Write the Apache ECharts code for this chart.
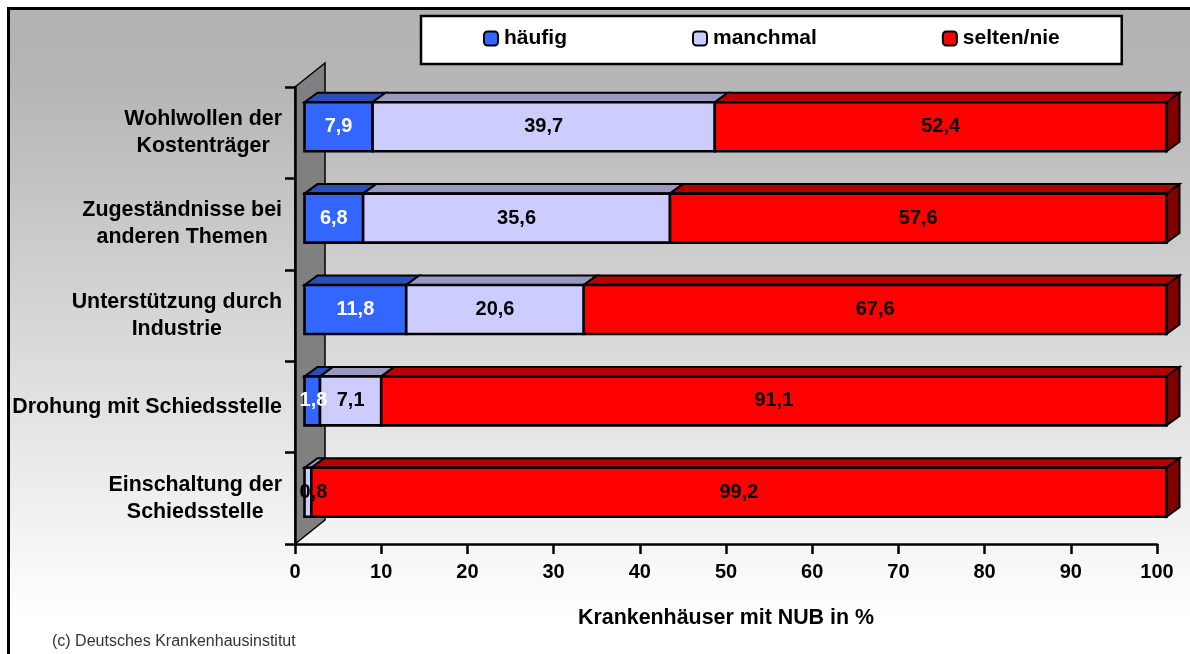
<!DOCTYPE html>
<html><head><meta charset="utf-8">
<style>html,body{margin:0;padding:0;background:#fff}#c{width:1190px;height:654px}</style>
<script src="https://cdn.jsdelivr.net/npm/echarts@6/dist/echarts.min.js"></script>
</head><body><div id="c"></div>
<script>
const categories = ['Wohlwollen der\nKostenträger','Zugeständnisse bei\nanderen Themen','Unterstützung durch\nIndustrie','Drohung mit Schiedsstelle','Einschaltung der\nSchiedsstelle'];
const haeufig = [7.9, 6.8, 11.8, 1.8, 0];
const manchmal = [39.7, 35.6, 20.6, 7.1, 0.8];
const selten = [52.4, 57.6, 67.6, 91.1, 99.2];
const xTicks = [0,100];
const seriesNames = ['häufig','manchmal','selten/nie'];
const FONT = '"Liberation Sans", Arial, sans-serif';
const FS = 20, FSL = 21.4;

const DX = 9.5, DY = -6, BACKX = 13, BACKY = -9.5, BAR_RATIO = 0.536;
const WALLX = 30, WALLY = -24;

function bar(front, top, side, labelColor, isLast) {
  return function (params, api) {
    const start = api.value(0), val = api.value(1), cat = api.value(2);
    if (!val) return null;
    const a = api.coord([start, cat]), b = api.coord([start + val, cat]);
    const h = api.size([0, 1])[1] * BAR_RATIO;
    const x0 = a[0] + DX, x1 = b[0] + DX, y0 = a[1] + DY - h / 2, y1 = y0 + h;
    const st = { stroke: '#000', lineWidth: 2.6, lineJoin: 'miter' };
    const kids = [
      { type: 'polygon', z2: 1, shape: { points: [[x0, y0], [x1, y0], [x1 + BACKX, y0 + BACKY], [x0 + BACKX, y0 + BACKY]] }, style: { fill: top, stroke: '#000', lineWidth: 2, lineJoin: 'miter' } },
      { type: 'rect', z2: 3, shape: { x: x0, y: y0, width: x1 - x0, height: h }, style: Object.assign({ fill: front }, st) }
    ];
    if (isLast) kids.push({ type: 'polygon', z2: 2, shape: { points: [[x1, y0], [x1 + BACKX, y0 + BACKY], [x1 + BACKX, y1 + BACKY], [x1, y1]] }, style: { fill: side, stroke: '#000', lineWidth: 2, lineJoin: 'miter' } });
    kids.push({ type: 'text', z2: 100, style: {
      x: Math.max((x0 + x1) / 2, x0 + 9), y: (y0 + y1) / 2,
      text: String(val).replace('.', ','), fill: labelColor,
      font: 'bold ' + FS + 'px ' + FONT, align: 'center', verticalAlign: 'middle'
    } });
    return { type: 'group', children: kids };
  };
}
function stackData(own, prevs) {
  return own.map((v, i) => [prevs.reduce((s, p) => s + p[i], 0), v, i]);
}
function wall(params, api) {
  const n = categories.length;
  const p = api.coord([0, 0]), q = api.coord([0, n - 1]), band = api.size([0, 1])[1];
  const x = p[0], t = p[1] - band / 2, b = q[1] + band / 2;
  return { type: 'polygon', shape: { points: [[x, t], [x + WALLX, t + WALLY], [x + WALLX, b + WALLY], [x, b]] }, style: { fill: '#808080', stroke: '#000', lineWidth: 1.5 } };
}
const chart = echarts.init(document.getElementById('c'), null, { renderer: 'canvas' });
const common = { type: 'custom', coordinateSystem: 'cartesian2d', z: 3, encode: { x: 0, y: 2 }, clip: false };
chart.setOption({
  animation: false,
  backgroundColor: '#fff',
  graphic: { elements: [{ type: 'rect', z: -10, silent: true,
    shape: { x: 8.5, y: 8.5, width: 1300, height: 800 },
    style: { stroke: '#000', lineWidth: 3, fill: { type: 'linear', x: 0, y: 0, x2: 0, y2: 1, global: false,
      colorStops: [{ offset: 0, color: '#b2b2b2' }, { offset: 0.1, color: '#b6b6b6' }, { offset: 0.76, color: '#ffffff' }, { offset: 1, color: '#ffffff' }] } } }] },
  title: { text: '(c) Deutsches Krankenhausinstitut', left: 52, top: 634, padding: 0,
    textStyle: { fontFamily: FONT, fontSize: 16, fontWeight: 'normal', color: '#333' } },
  legend: { data: seriesNames, left: 421, top: 16, orient: 'horizontal', itemGap: 125, itemWidth: 14, itemHeight: 14,
    padding: [12, 62, 15, 62], backgroundColor: '#fff', borderColor: '#000', borderWidth: 2.5,
    icon: 'roundRect', selectedMode: false,
    textStyle: { fontFamily: FONT, fontSize: 21, fontWeight: 'bold', color: '#000', padding: [0, 0, 0, 1] } },
  grid: { left: 295, width: 862, top: 87, height: 457 },
  xAxis: { type: 'value', min: xTicks[0], max: xTicks[1], interval: 10, z: 2,
    name: 'Krankenhäuser mit NUB in %', nameLocation: 'middle', nameGap: 64,
    nameTextStyle: { fontFamily: FONT, fontSize: FSL, fontWeight: 'bold', color: '#000' },
    axisLine: { show: true, lineStyle: { color: '#000', width: 2.5 } },
    axisTick: { show: true, length: 10, lineStyle: { color: '#000', width: 2.5 } },
    splitLine: { show: false },
    axisLabel: { fontFamily: FONT, fontSize: FS, fontWeight: 'bold', color: '#000', margin: 18 } },
  yAxis: { type: 'category', data: categories, inverse: true, z: 2,
    axisLine: { show: true, lineStyle: { color: '#000', width: 2.5 } },
    axisTick: { show: true, length: 10, lineStyle: { color: '#000', width: 2.5 } },
    axisLabel: { margin: 13, align: 'right', interval: 0,
      formatter: v => v.split('\n').map(l => '{c|' + l + '}').join('\n'),
      rich: { c: { align: 'center', fontFamily: FONT, fontSize: FSL, fontWeight: 'bold', color: '#000', lineHeight: 27 } } } },
  series: [
    { type: 'custom', coordinateSystem: 'cartesian2d', name: 'wall', z: 1, silent: true, clip: false, encode: { x: 0, y: 1 }, data: [[0, 0]], renderItem: wall },
    Object.assign({}, common, { name: seriesNames[0], itemStyle: { color: '#3366ff', borderColor: '#000', borderWidth: 2.5 }, data: stackData(haeufig, []), renderItem: bar('#3366ff', '#2a4fb5', '#1f3a8a', '#fff', false) }),
    Object.assign({}, common, { name: seriesNames[1], itemStyle: { color: '#ccccff', borderColor: '#000', borderWidth: 2.5 }, data: stackData(manchmal, [haeufig]), renderItem: bar('#ccccff', '#9999c0', '#8080a0', '#000', false) }),
    Object.assign({}, common, { name: seriesNames[2], itemStyle: { color: '#ff0000', borderColor: '#000', borderWidth: 2.5 }, data: stackData(selten, [haeufig, manchmal]), renderItem: bar('#ff0000', '#b30000', '#800000', '#000', true) })
  ]
});
</script></body></html>
